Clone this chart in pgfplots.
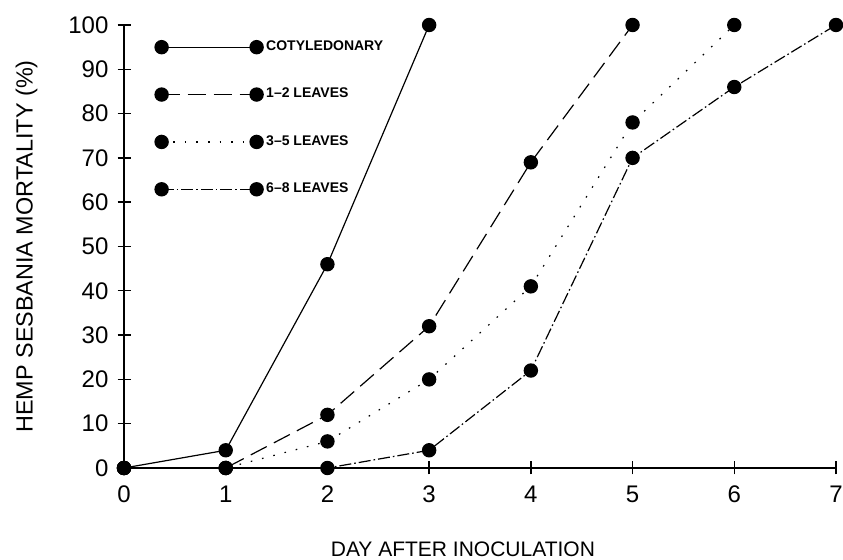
\documentclass[border=0pt]{standalone}
\usepackage{fontspec}
\setmainfont{Liberation Sans}
\usepackage{pgfplots}
\pgfplotsset{compat=1.18}

\begin{document}
\begin{tikzpicture}
\begin{axis}[
    name=ax,
    scale only axis,
    width=356pt, height=221.5pt,
    xmin=0, xmax=7, ymin=0, ymax=100,
    enlargelimits=false,
    clip=false,
    axis lines=left,
    axis line style={-, line width=0.7pt},
    xtick={0,...,7},
    ytick={0,10,...,100},
    tick align=center,
    major tick length=6.5pt,
    tick style={line width=0.7pt, black},
    /pgf/number format/assume math mode=true,
    tick label style={font=\fontsize{12}{14}\selectfont},
    xticklabel style={yshift=-2pt},
    yticklabel style={xshift=-1pt},
    xlabel={DAY AFTER INOCULATION},
    ylabel={HEMP SESBANIA MORTALITY (\%)},
    xlabel style={font=\fontsize{10.5}{12}\selectfont, at={(axis description cs:0.476,-0.183)}, anchor=center},
    ylabel style={font=\fontsize{11.7}{13}\selectfont, at={(axis description cs:-0.137,0.5)}, anchor=center, rotate=0},
    cycle list={{black}},
    every axis plot/.append style={line width=0.6pt, black, mark=*, mark size=3.3pt, mark options={solid, fill=black}},
    legend image code/.code={
        \draw[mark repeat=1,#1] plot coordinates {(0pt,0pt) (47.5pt,0pt)};
    },
    legend style={draw=none, fill=none, at={(axis description cs:0.043,0.972)}, anchor=north west,
        inner sep=0pt, row sep=14.3pt,
        font=\bfseries\fontsize{7}{7}\selectfont,
        nodes={inner sep=1.5pt}},
    legend cell align=left,
]
\addplot coordinates {(0,0) (1,4) (2,46) (3,100)};
\addlegendentry{COTYLEDONARY}
\addplot[dash pattern=on 9pt off 4pt] coordinates {(0,0) (1,0) (2,12) (3,32) (4,69) (5,100)};
\addlegendentry{1--2 LEAVES}
\addplot[dash pattern=on 0.8pt off 5pt] coordinates {(0,0) (1,0) (2,6) (3,20) (4,41) (5,78) (6,100)};
\addlegendentry{3--5 LEAVES}
\addplot[dash pattern=on 6pt off 1.5pt on 0.8pt off 1.5pt] coordinates {(0,0) (1,0) (2,0) (3,4) (4,22) (5,70) (6,86) (7,100)};
\addlegendentry{6--8 LEAVES}
\end{axis}
\pgfresetboundingbox
\path ([xshift=-62pt,yshift=-46pt]ax.south west) rectangle ([xshift=3.5pt,yshift=12.5pt]ax.north east);
\end{tikzpicture}
\end{document}
